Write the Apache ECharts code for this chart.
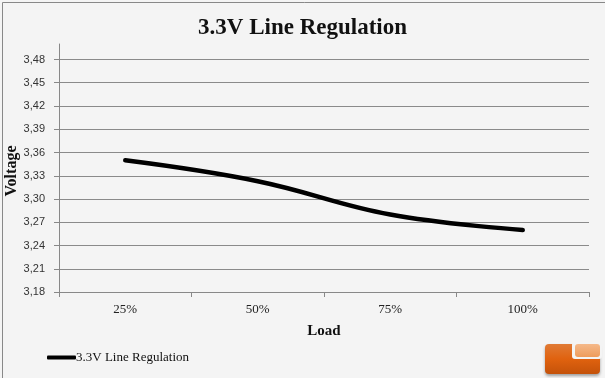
<!DOCTYPE html>
<html><head><meta charset="utf-8">
<script src="https://cdn.jsdelivr.net/npm/echarts@6/dist/echarts.min.js"></script>
<style>html,body{margin:0;padding:0;background:#f4f4f4}#c{width:605px;height:378px}</style>
</head><body><div id="c"></div>
<script>
const categories = ['25%', '50%', '75%', '100%'];
const voltages = [3.350, 3.323, 3.280, 3.260];
const seriesName = '3.3V Line Regulation';
const yMin = 3.18, yMax = 3.50, yStep = 0.03;

const chart = echarts.init(document.getElementById('c'));
chart.setOption({
  backgroundColor: '#f4f4f4',
  animation: false,
  title: {
    text: '3.3V Line Regulation', left: 'center', top: 12,
    textStyle: { fontFamily: 'Liberation Serif', fontWeight: 'bold', fontSize: 23, color: '#111' }
  },
  legend: {
    left: 42, top: 346, itemWidth: 29, itemHeight: 4, itemGap: 0,
    data: [{ name: seriesName, icon: 'roundRect' }],
    itemStyle: { color: '#000' },
    textStyle: { fontFamily: 'Liberation Serif', fontSize: 13, color: '#111', padding: [0, 0, 0, -5] }
  },
  grid: { left: 59, right: 16, top: 44, bottom: 86, containLabel: false, outerBoundsMode: 'none' },
  xAxis: {
    type: 'category', data: categories, boundaryGap: true,
    name: 'Load', nameLocation: 'middle', nameGap: 32,
    nameTextStyle: { fontFamily: 'Liberation Serif', fontWeight: 'bold', fontSize: 15, color: '#111' },
    axisLine: { lineStyle: { color: '#888', width: 1 } },
    axisTick: { show: true, length: 5, lineStyle: { color: '#888' } },
    axisLabel: { fontFamily: 'Liberation Serif', fontSize: 13, color: '#222', margin: 11 }
  },
  yAxis: {
    type: 'value', min: yMin, max: yMax, interval: yStep,
    name: 'Voltage', nameLocation: 'middle', nameGap: 39, nameRotate: 90, nameMoveOverlap: false,
    nameTextStyle: { fontFamily: 'Liberation Serif', fontWeight: 'bold', fontSize: 16, color: '#111', padding: [0, 6, 0, 0] },
    axisLine: { show: true, lineStyle: { color: '#888', width: 1 } },
    axisTick: { show: true, length: 5, lineStyle: { color: '#888' } },
    axisLabel: {
      fontFamily: 'Liberation Sans', fontSize: 11, color: '#333', margin: 14, showMaxLabel: false,
      formatter: v => v.toFixed(2).replace('.', ',')
    },
    splitLine: { show: true, showMaxLine: false, lineStyle: { color: '#8a8a8a', width: 1 } }
  },
  series: [{
    name: seriesName, type: 'line', data: voltages, smooth: 0.4,
    showSymbol: false, symbol: 'none',
    lineStyle: { color: '#000', width: 4.5, cap: 'round' },
    itemStyle: { color: '#000' }
  }],
  graphic: [
    { type: 'rect', left: 0, top: 0, shape: { x: 0.5, y: 0.5, width: 604, height: 377 },
      style: { fill: 'none', stroke: '#888', lineWidth: 1 }, silent: true, z: 100 },
    { type: 'rect', shape: { x: 545, y: 344, width: 55, height: 30, r: 4 },
      style: { fill: new echarts.graphic.LinearGradient(0, 0, 0, 1, [{offset: 0, color: '#e07a35'}, {offset: 0.5, color: '#e0620f'}, {offset: 1, color: '#c4520a'}]),
               shadowColor: 'rgba(0,0,0,0.35)', shadowBlur: 3, shadowOffsetY: 2 }, z: 90 },
    { type: 'rect', shape: { x: 572, y: 342, width: 30, height: 17, r: 3 },
      style: { fill: '#f4f4f4' }, z: 91 },
    { type: 'rect', shape: { x: 575, y: 344, width: 25, height: 13, r: 3 },
      style: { fill: new echarts.graphic.LinearGradient(0, 0, 0, 1, [{offset: 0, color: '#f5b98a'}, {offset: 1, color: '#ee9c5c'}]) }, z: 92 }
  ]
});
</script></body></html>
